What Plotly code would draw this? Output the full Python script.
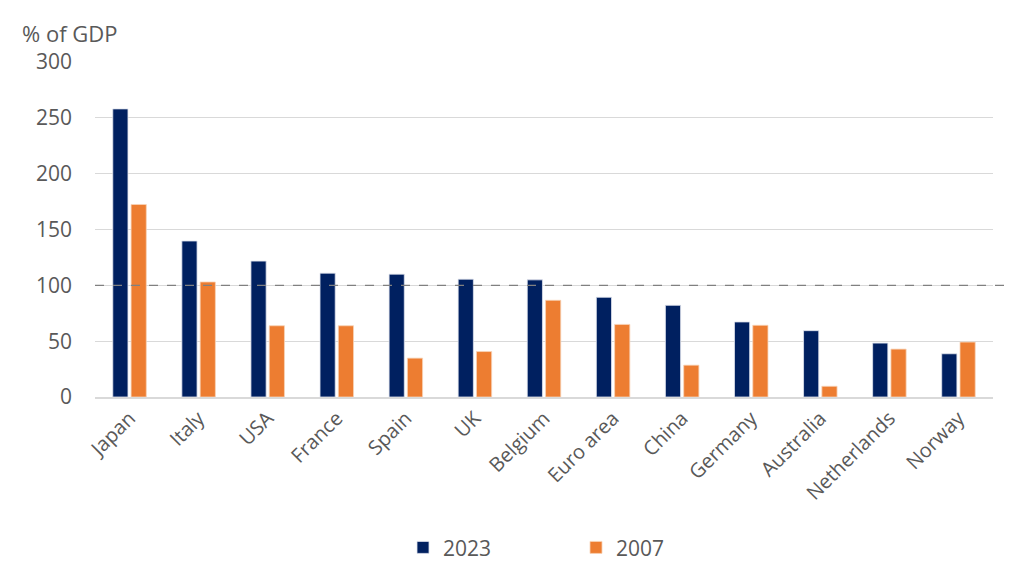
import plotly.graph_objects as go

countries = ["Japan", "Italy", "USA", "France", "Spain", "UK", "Belgium",
             "Euro area", "China", "Germany", "Australia", "Netherlands", "Norway"]
debt_2023 = [258, 139.7, 121.7, 110.9, 110, 105.5, 104.9, 89.3, 82.1, 67.2, 59.4, 48.3, 38.7]
debt_2007 = [172.4, 103, 63.8, 63.8, 34.8, 40.7, 86.6, 65, 28.5, 64.2, 9.6, 42.9, 49.2]
y_ticks = [0, 50, 100, 150, 200, 250, 300]
threshold = 100

font_family = "Open Sans"
grey = "#595959"

fig = go.Figure()
fig.add_trace(go.Bar(name="2023", x=countries, y=debt_2023,
                     marker=dict(color="#002060", line=dict(color="#dfe3ee", width=0.8))))
fig.add_trace(go.Bar(name="2007", x=countries, y=debt_2007,
                     marker=dict(color="#ED7D31", line=dict(color="#f8d3b8", width=0.8))))

fig.add_shape(type="line", xref="paper", yref="y", x0=0, x1=1.016, y0=threshold, y1=threshold,
              line=dict(color="#808080", width=1.2, dash="dash"))

fig.add_annotation(text="% of GDP", xref="paper", yref="paper", x=-0.083, y=1.0,
                   yshift=29, xanchor="left", yanchor="middle", showarrow=False,
                   font=dict(family=font_family, size=22, color=grey))

fig.update_layout(
    width=1024, height=586,
    margin=dict(l=95, r=31, t=62, b=189),
    paper_bgcolor="white", plot_bgcolor="white",
    barmode="group", bargap=0.47, bargroupgap=0.17,
    font=dict(family=font_family, size=20, color=grey),
    showlegend=True,
    legend=dict(orientation="h", x=0.343, xanchor="left", y=-0.45, yanchor="middle",
                entrywidth=128, entrywidthmode="pixels", traceorder="normal",
                font=dict(family=font_family, size=21, color=grey)),
    xaxis=dict(tickangle=-45, showgrid=False, showline=True, linecolor="#d9d9d9",
               linewidth=1.5, ticks="", tickfont=dict(size=20, color=grey)),
    yaxis=dict(range=[0, 300], tickvals=y_ticks, showgrid=True, gridcolor="#d9d9d9",
               gridwidth=1.3, zeroline=False, showline=False, ticks="",
               ticklabelstandoff=22, tickfont=dict(size=21, color=grey)),
)

fig.write_html("out.html")
